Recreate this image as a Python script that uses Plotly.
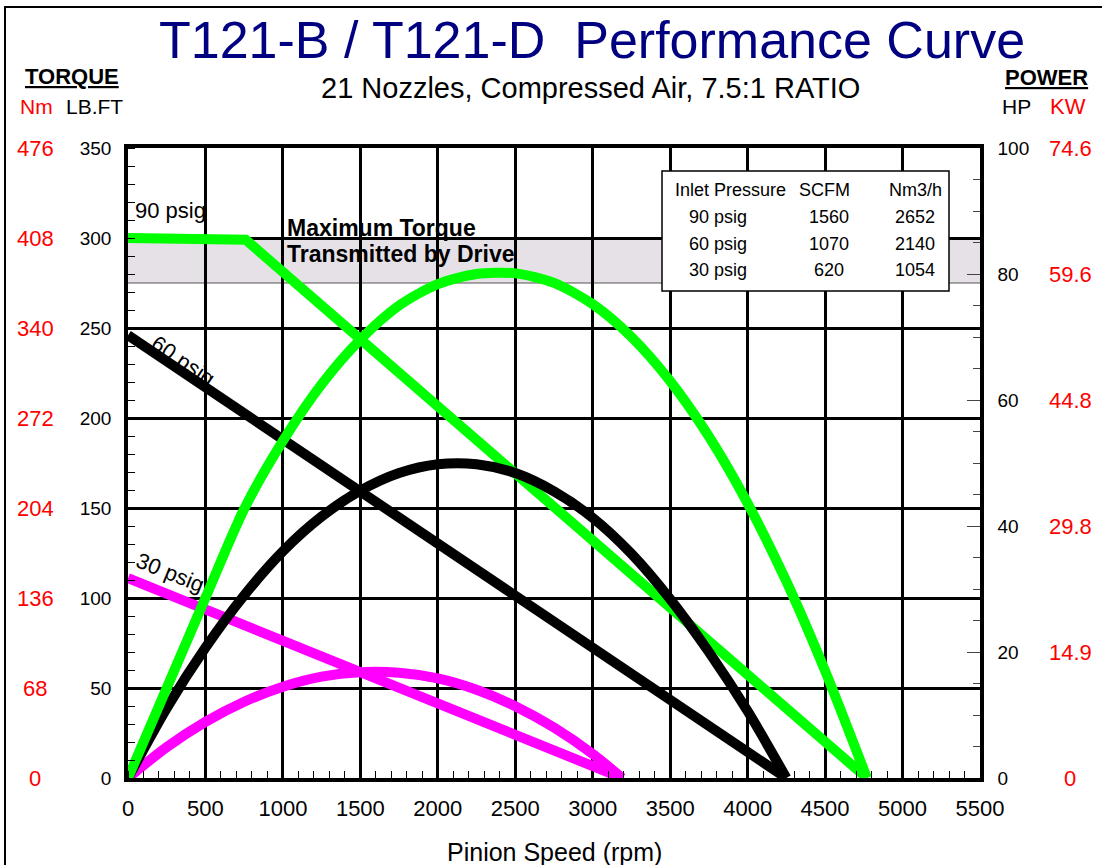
import plotly.graph_objects as go

# ---------------- data ----------------
x_ticks = [0, 500, 1000, 1500, 2000, 2500, 3000, 3500, 4000, 4500, 5000, 5500]
lbft_ticks = [0, 50, 100, 150, 200, 250, 300, 350]
nm_labels = ["0", "68", "136", "204", "272", "340", "408", "476"]
hp_ticks = [0, 20, 40, 60, 80, 100]
kw_labels = ["0", "14.9", "29.8", "44.8", "59.6", "74.6"]

# 90 psig (green)
g_torque_rpm = [0, 760, 4770]
g_torque = [300, 299, 0]
g_power_rpm = [0, 250, 500, 750, 1000, 1250, 1500, 1750, 2000, 2250, 2500, 2750,
               3000, 3250, 3500, 3750, 4000, 4250, 4500, 4770]
g_power_hp = [0, 14.3, 28.6, 42.7, 53.5, 62.5, 69.6, 75.0, 78.4, 80.0, 80.1, 78.6,
              75.2, 70.0, 63.0, 54.2, 43.6, 31.2, 17.0, 0]

# 60 psig (black)
b_torque_rpm = [0, 4250]
b_torque = [246, 0]
b_power_rpm = [0, 250, 500, 750, 1000, 1250, 1500, 1750, 2000, 2250, 2500, 2750,
               3000, 3250, 3500, 3750, 4000, 4250]
b_power_hp = [0, 11.1, 20.7, 29.0, 36.0, 41.5, 45.6, 48.4, 49.8, 49.8, 48.4, 45.5,
              41.3, 35.6, 28.4, 20.0, 10.6, 0]

# 30 psig (magenta)
m_torque_rpm = [0, 3190]
m_torque = [111, 0]
m_power_rpm = [0, 250, 500, 750, 1000, 1250, 1500, 1750, 2000, 2250, 2500, 2750, 3000, 3190]
m_power_hp = [0, 4.9, 8.9, 12.1, 14.5, 16.1, 16.8, 16.7, 15.8, 14.0, 11.4, 8.0, 3.8, 0]

band_low, band_high = 275, 300

table_header = ["Inlet Pressure", "SCFM", "Nm3/h"]
table_rows = [["90 psig", "1560", "2652"],
              ["60 psig", "1070", "2140"],
              ["30 psig", "620", "1054"]]

# ---------------- layout helpers ----------------
W, H = 1102, 865
L, R, T, B = 128, 980, 148, 778
FONT = "Arial, Liberation Sans, sans-serif"


def PX(x):
    return (x - L) / (R - L)


def PY(y):
    return (B - y) / (B - T)


GREEN = "#00ff00"
MAG = "#ff00ff"
LW = 10

fig = go.Figure()

fig.add_trace(go.Scatter(x=m_torque_rpm, y=m_torque, mode="lines",
                         line=dict(color=MAG, width=LW), yaxis="y"))
fig.add_trace(go.Scatter(x=m_power_rpm, y=m_power_hp, mode="lines",
                         line=dict(color=MAG, width=LW, shape="spline", smoothing=0.8), yaxis="y2"))
fig.add_trace(go.Scatter(x=b_torque_rpm, y=b_torque, mode="lines",
                         line=dict(color="black", width=LW), yaxis="y"))
fig.add_trace(go.Scatter(x=b_power_rpm, y=b_power_hp, mode="lines",
                         line=dict(color="black", width=LW, shape="spline", smoothing=0.8), yaxis="y2"))
fig.add_trace(go.Scatter(x=g_torque_rpm, y=g_torque, mode="lines",
                         line=dict(color=GREEN, width=LW), yaxis="y"))
fig.add_trace(go.Scatter(x=g_power_rpm, y=g_power_hp, mode="lines",
                         line=dict(color=GREEN, width=LW, shape="spline", smoothing=0.8), yaxis="y2"))

shapes = [
    dict(type="rect", xref="x", yref="y", x0=x_ticks[0], x1=x_ticks[-1], y0=band_low, y1=band_high,
         fillcolor="#e6e1e7", line=dict(width=0), layer="below"),
    dict(type="line", xref="x", yref="y", x0=x_ticks[0], x1=x_ticks[-1], y0=band_low, y1=band_low,
         line=dict(color="#555555", width=1.2), layer="below"),
    # table box
    dict(type="rect", xref="paper", yref="paper", x0=PX(662), x1=PX(949), y0=PY(291), y1=PY(171),
         fillcolor="white", line=dict(color="black", width=1.5), layer="above"),
    # outer frame
    dict(type="rect", xref="paper", yref="paper", x0=PX(5), x1=PX(1130), y0=PY(890), y1=PY(7),
         fillcolor="rgba(0,0,0,0)", line=dict(color="black", width=2), layer="above"),
]

ann = []


def text(x, y, s, size, color="black", xanchor="center", bold=False, angle=0, yanchor="middle"):
    if bold:
        s = "<b>" + s + "</b>"
    ann.append(dict(x=PX(x), y=PY(y), xref="paper", yref="paper", text=s, showarrow=False,
                    xanchor=xanchor, yanchor=yanchor, textangle=angle,
                    font=dict(family=FONT, size=size, color=color)))


text(592, 40, "T121-B / T121-D\u00a0\u00a0Performance Curve", 52, color="#000080")
text(590, 88, "21 Nozzles, Compressed Air, 7.5:1 RATIO", 29)
text(72, 77, "<u>TORQUE</u>", 22, bold=True)
text(36, 106, "Nm", 21, color="red")
text(94, 106, "LB.FT", 21)
text(1046, 78, "<u>POWER</u>", 22, bold=True)
text(1017, 106, "HP", 21)
text(1068, 106, "KW", 22, color="red")
text(554, 852, "Pinion Speed (rpm)", 25)

text(133, 210, "90 psig", 22, xanchor="left")
text(183, 360, "60 psig", 22, angle=34)
text(170, 572, "30 psig", 22, angle=22)
text(285, 228, "Maximum Torque", 23, xanchor="left", bold=True)
text(285, 254, "Transmitted by Drive", 23, xanchor="left", bold=True)

# table
col_x = [730, 824, 915]
row_y = [190, 217, 244, 270]
for cx, h in zip(col_x, table_header):
    text(cx, row_y[0], h, 18)
row_cx = [718, 829, 915]
for ry, row in zip(row_y[1:], table_rows):
    for cx, v in zip(row_cx, row):
        text(cx, ry, v, 18)

# Nm labels (left, red)
for v, lab in zip(lbft_ticks, nm_labels):
    ann.append(dict(x=PX(35), y=v, xref="paper", yref="y", text=lab, showarrow=False,
                    xanchor="center", yanchor="middle",
                    font=dict(family=FONT, size=22, color="red")))
# KW labels (right, red)
for v, lab in zip(hp_ticks, kw_labels):
    ann.append(dict(x=PX(1070), y=v, xref="paper", yref="y2", text=lab, showarrow=False,
                    xanchor="center", yanchor="middle",
                    font=dict(family=FONT, size=22, color="red")))

fig.update_layout(
    width=W, height=H, autosize=False,
    margin=dict(l=L, r=W - R, t=T, b=H - B, pad=0),
    paper_bgcolor="white", plot_bgcolor="white",
    showlegend=False,
    shapes=shapes, annotations=ann,
    font=dict(family=FONT, color="black"),
    xaxis=dict(range=[0, 5500], tickvals=x_ticks, showgrid=True, gridcolor="black", gridwidth=2.5,
               zeroline=False, showline=True, linecolor="black", linewidth=3.5, mirror=True,
               ticks="", ticklabelstandoff=8, tickfont=dict(size=22, family=FONT),
               minor=dict(dtick=100, ticks="inside", ticklen=7, tickwidth=1.3, tickcolor="black",
                          showgrid=False)),
    yaxis=dict(range=[0, 350], tickvals=lbft_ticks, showgrid=True, gridcolor="black", gridwidth=2.5,
               zeroline=False, showline=True, linecolor="black", linewidth=3.5,
               ticks="", ticklabelstandoff=9, tickfont=dict(size=19, family=FONT),
               minor=dict(dtick=10, ticks="inside", ticklen=7, tickwidth=1.3, tickcolor="black",
                          showgrid=False)),
    yaxis2=dict(range=[0, 100], tickvals=hp_ticks, overlaying="y", side="right", showgrid=False,
                zeroline=False, showline=True, linecolor="black", linewidth=3.5,
                ticks="inside", ticklen=13, tickwidth=1.3, tickcolor="#444444",
                ticklabelstandoff=10, tickfont=dict(size=19, family=FONT),
                minor=dict(dtick=5, ticks="inside", ticklen=7, tickwidth=1.3, tickcolor="#444444",
                           showgrid=False)),
)

fig.write_html("out.html", config={"displayModeBar": False},
               post_script="document.body.style.margin='0px';document.body.style.overflow='hidden';")
